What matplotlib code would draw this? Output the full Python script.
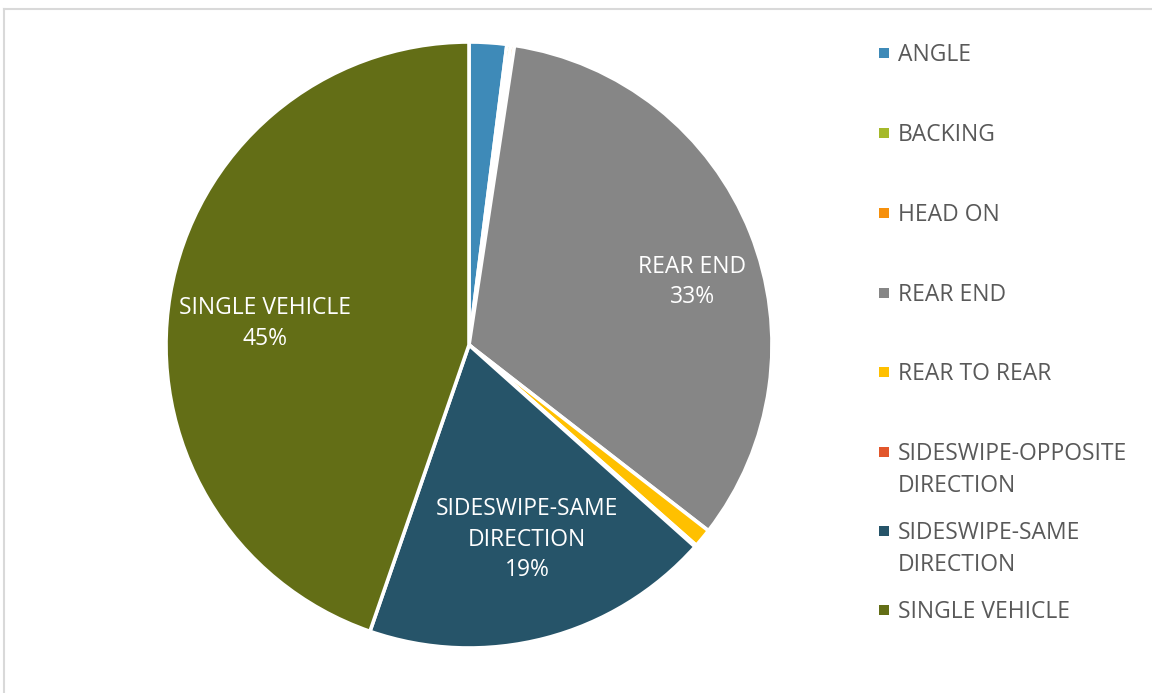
import numpy as np
import matplotlib.pyplot as plt
from matplotlib.lines import Line2D
from matplotlib.patches import Rectangle

plt.rcParams['font.family'] = ['Open Sans', 'DejaVu Sans']

# collision types and their share of crashes (percent)
categories = ['ANGLE', 'BACKING', 'HEAD ON', 'REAR END', 'REAR TO REAR',
              'SIDESWIPE-OPPOSITE\nDIRECTION', 'SIDESWIPE-SAME\nDIRECTION',
              'SINGLE VEHICLE']
shares = [2.0, 0.2, 0.2, 33.1, 1.0, 0.1, 18.7, 44.7]
colors = ['#3E8AB8', '#A5B92A', '#F6900C', '#868686', '#FFC000',
          '#E2562B', '#265469', '#636E16']

W, H = 1152, 693
fig = plt.figure(figsize=(W / 100, H / 100), dpi=100)

# light frame around the chart area
fig.add_artist(Line2D([3.5 / W, 3.5 / W], [0, 1 - 8.5 / H], color='#D9D9D9', lw=1.5))
fig.add_artist(Line2D([3.5 / W, 1], [1 - 8.5 / H, 1 - 8.5 / H], color='#D9D9D9', lw=1.5))

cx, cy, r = 469, 345, 303
ax = fig.add_axes([(cx - r) / W, (H - cy - r) / H, 2 * r / W, 2 * r / H])
wedges, _ = ax.pie(shares, colors=colors, startangle=90, counterclock=False,
                   radius=1, wedgeprops=dict(edgecolor='white', linewidth=2.6))
for w in wedges:
    w.set_clip_on(False)
ax.set_xlim(-1, 1)
ax.set_ylim(-1, 1)
ax.set_aspect('equal')
ax.axis('off')

# labels on the three big slices: (distance from centre, angle nudge in degrees)
label_pos = {3: (0.766, -6), 6: (0.67, 2), 7: (0.677, 3.5)}
for i, (d, nudge) in label_pos.items():
    w = wedges[i]
    mid = np.deg2rad((w.theta1 + w.theta2) / 2 + nudge)
    x, y = d * np.cos(mid), d * np.sin(mid)
    txt = '%s\n%d%%' % (categories[i], round(shares[i]))
    ax.text(x, y, txt, ha='center', va='center', color='white',
            fontsize=16.5, linespacing=1.36)

# legend drawn by hand so markers line up with the first text line
leg_y = [53, 133, 213, 293, 372, 452, 531, 610]
for name, col, y in zip(categories, colors, leg_y):
    fig.add_artist(Rectangle((879 / W, 1 - (y + 5) / H), 10 / W, 10 / H,
                             facecolor=col, edgecolor='none'))
    for k, line in enumerate(name.split('\n')):
        fig.text(898 / W, 1 - (y + 8 + 32 * k) / H, line, ha='left',
                 va='baseline', color='#595959', fontsize=16.5)

fig.savefig('out.png', dpi=100)
